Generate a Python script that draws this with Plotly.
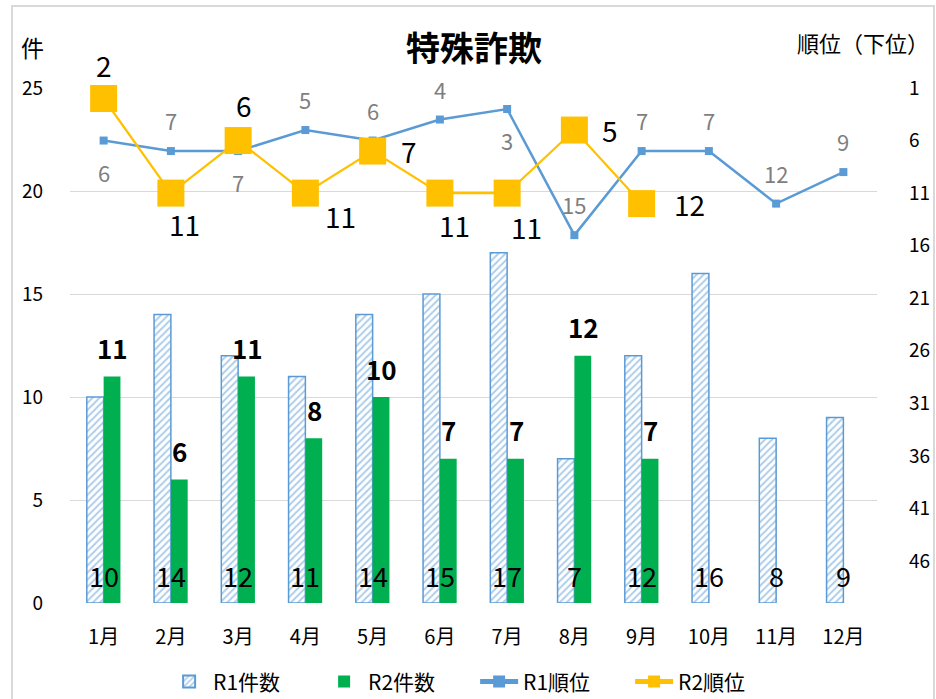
import plotly.graph_objects as go

months = ["1月", "2月", "3月", "4月", "5月", "6月", "7月", "8月", "9月", "10月", "11月", "12月"]
r1_count = [10, 14, 12, 11, 14, 15, 17, 7, 12, 16, 8, 9]
r2_count = [11, 6, 11, 8, 10, 7, 7, 12, 7]
r1_rank = [6, 7, 7, 5, 6, 4, 3, 15, 7, 7, 12, 9]
r2_rank = [2, 11, 6, 11, 7, 11, 11, 5, 12]

# label placement styles (pixel offsets)
r1_lab_pos = ["below", "above", "below", "above", "above", "above", "below", "above", "above", "above", "above", "above"]
r2_lab_off = [(0, -34, "center"), (14, 31, "center"), (6, -36, "center"), (18, 23, "left"),
              (26, 0, "left"), (15, 32, "center"), (19, 34, "center"), (26, 0, "left"), (30, 0, "left")]

FONT = "Noto Sans CJK JP"
BLUE = "#5b9bd5"
GREEN = "#00b050"
GOLD = "#ffc000"

fig = go.Figure()
fig.add_trace(go.Bar(
    x=months, y=r1_count, name="R1件数",
    marker=dict(color="white", line=dict(color=BLUE, width=1.5),
                pattern=dict(shape="/", fgcolor=BLUE, bgcolor="white", size=5, solidity=0.4)),
))
fig.add_trace(go.Bar(
    x=months[:len(r2_count)], y=r2_count, name="R2件数",
    marker=dict(color=GREEN, line=dict(width=0)),
))
fig.add_trace(go.Scatter(
    x=months, y=r1_rank, name="R1順位", yaxis="y2", mode="lines+markers",
    line=dict(color=BLUE, width=2.5), marker=dict(symbol="square", size=8, color=BLUE),
))
fig.add_trace(go.Scatter(
    x=months[:len(r2_rank)], y=r2_rank, name="R2順位", yaxis="y2", mode="lines+markers",
    line=dict(color=GOLD, width=2.2), marker=dict(symbol="square", size=27, color=GOLD),
    cliponaxis=False,
))

ann = []
# R1 count labels at bar base
for m, v in zip(months, r1_count):
    ann.append(dict(x=m, y=0, yref="y", text=str(v), showarrow=False, yshift=28,
                    font=dict(size=27, color="black", family=FONT)))
# R2 count labels above bars (bold)
for m, v in zip(months, r2_count):
    ann.append(dict(x=m, y=v, yref="y", text="<b>%d</b>" % v, showarrow=False, yshift=29, xshift=9,
                    font=dict(size=26, color="black", family=FONT)))
# R1 rank labels
for m, v, p in zip(months, r1_rank, r1_lab_pos):
    ann.append(dict(x=m, y=v, yref="y2", text=str(v), showarrow=False,
                    yshift=(-31 if p == "below" else 31),
                    font=dict(size=22, color="#7f7f7f", family=FONT)))
# R2 rank labels
for m, v, (dx, dy, xa) in zip(months, r2_rank, r2_lab_off):
    ann.append(dict(x=m, y=v, yref="y2", text=str(v), showarrow=False, xshift=dx, yshift=-dy,
                    xanchor=xa, font=dict(size=28, color="black", family=FONT)))

# titles
ann.append(dict(x=0.5, y=1.08, xref="paper", yref="paper", text="<b>特殊詐欺</b>", showarrow=False,
                xanchor="center", yanchor="middle", font=dict(size=34, color="black", family=FONT)))
ann.append(dict(x=-0.047, y=1.08, xref="paper", yref="paper", text="件", showarrow=False,
                xanchor="center", yanchor="middle", font=dict(size=23, color="black", family=FONT)))
ann.append(dict(x=1.067, y=1.09, xref="paper", yref="paper", text="順位（下位）", showarrow=False,
                yanchor="middle", xanchor="right", font=dict(size=22, color="black", family=FONT)))

fig.update_layout(
    width=936, height=699,
    margin=dict(l=70, r=59, t=88, b=96, autoexpand=False),
    paper_bgcolor="white", plot_bgcolor="white",
    font=dict(family=FONT, color="black"),
    barmode="group", bargap=0.5, bargroupgap=0,
    showlegend=True,
    legend=dict(orientation="h", x=0.502, xanchor="center", y=-0.153, yanchor="middle",
                font=dict(size=21, family=FONT), itemsizing="constant", traceorder="normal",
                itemwidth=38, entrywidth=102, entrywidthmode="pixels"),
    annotations=ann,
    xaxis=dict(range=[-0.5, 11.5], showgrid=False, showline=False, ticks="", tickfont=dict(size=20),
               ticklabelstandoff=20, automargin=False),
    yaxis=dict(range=[0, 25], dtick=5, showgrid=True, gridcolor="#d9d9d9", gridwidth=1,
               zeroline=False, showline=False, tickfont=dict(size=19), ticklabelstandoff=26,
               automargin=False),
    yaxis2=dict(overlaying="y", side="right", range=[50, 1], tickvals=[1, 6, 11, 16, 21, 26, 31, 36, 41, 46],
                showgrid=False, zeroline=False, showline=False, tickfont=dict(size=19),
                ticklabelstandoff=31, automargin=False),
    shapes=[dict(type="rect", xref="paper", yref="paper", x0=-0.0719, x1=1.0706, y0=-0.19, y1=1.159,
                 line=dict(color="#d9d9d9", width=2), fillcolor="rgba(0,0,0,0)", layer="below")],
)

fig.write_html("out.html", config={"displayModeBar": False},
               post_script="document.body.style.margin='0';")
